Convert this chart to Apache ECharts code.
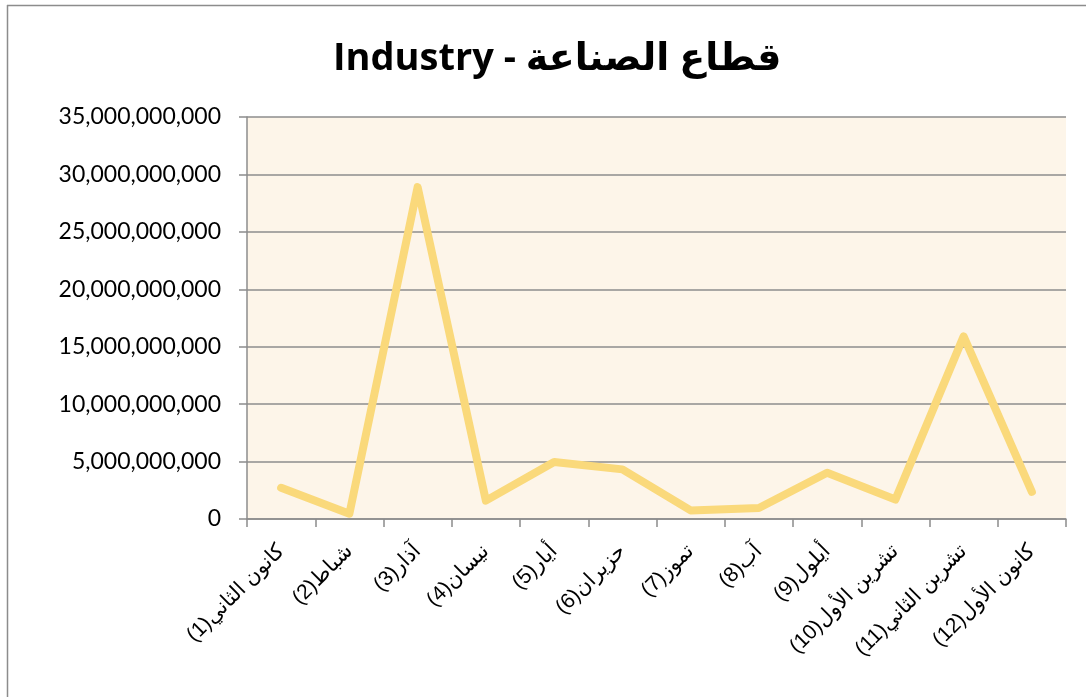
<!DOCTYPE html>
<html>
<head>
<meta charset="utf-8">
<script src="https://cdn.jsdelivr.net/npm/echarts@6/dist/echarts.min.js"></script>
<style>
html,body{margin:0;padding:0;background:#fff;}
#chart{width:1086px;height:697px;}
</style>
</head>
<body>
<div id="chart"></div>
<script>
const titleText = "Industry - قطاع الصناعة";
const monthNames = ["كانون الثاني","شباط","آذار","نيسان","أيار","حزيران","تموز","آب","أيلول","تشرين الأول","تشرين الثاني","كانون الأول"];
const monthNumbers = [1,2,3,4,5,6,7,8,9,10,11,12];
const industryValues = [2720000000, 460000000, 28900000000, 1600000000, 4970000000, 4320000000, 750000000, 960000000, 4030000000, 1690000000, 15900000000, 2370000000];
const yMin = 0, yMax = 35000000000, yStep = 5000000000;

const categories = monthNames.map((n, i) => n + "(" + monthNumbers[i] + ")");

const chart = echarts.init(document.getElementById('chart'), null, {renderer: 'canvas'});
chart.setOption({
  animation: false,
  backgroundColor: '#ffffff',
  title: {
    text: titleText,
    left: 328,
    top: 35,
    textStyle: {fontFamily: 'Open Sans, DejaVu Sans, sans-serif', fontWeight: 'bold', fontSize: 38, color: '#000'}
  },
  graphic: [
    {type: 'line', shape: {x1: 7, y1: 5.5, x2: 1086, y2: 5.5}, style: {stroke: '#8c8c8c', lineWidth: 1.5}},
    {type: 'line', shape: {x1: 7.5, y1: 5, x2: 7.5, y2: 697}, style: {stroke: '#8c8c8c', lineWidth: 1.5}}
  ],
  grid: {left: 247, right: 20, top: 117, bottom: 178, show: true, backgroundColor: '#FDF5E9', borderWidth: 0},
  xAxis: {
    type: 'category',
    data: categories,
    boundaryGap: true,
    axisLine: {lineStyle: {color: '#8c8c8c', width: 1.5}},
    axisTick: {show: true, alignWithLabel: false, length: 8, lineStyle: {color: '#8c8c8c', width: 1.5}},
    axisLabel: {
      interval: 0,
      rotate: 45,
      margin: 29,
      fontSize: 21,
      color: '#000',
      fontFamily: 'Liberation Sans, DejaVu Sans, sans-serif',
      formatter: function (v, i) { return "(" + monthNumbers[i] + ")" + monthNames[i]; }
    }
  },
  yAxis: {
    type: 'value',
    min: yMin, max: yMax, interval: yStep,
    axisLine: {show: true, lineStyle: {color: '#8c8c8c', width: 1.5}},
    axisTick: {show: true, length: 8, lineStyle: {color: '#8c8c8c', width: 1.5}},
    splitLine: {lineStyle: {color: '#8c8c8c', width: 1.5}},
    axisLabel: {
      fontSize: 23, color: '#000', margin: 26,
      fontFamily: 'Lato, Open Sans, sans-serif',
      formatter: v => v.toLocaleString('en-US')
    }
  },
  series: [{
    type: 'line',
    data: industryValues,
    symbol: 'none',
    lineStyle: {color: '#FAD97B', width: 8, cap: 'round', join: 'round'},
    itemStyle: {color: '#FAD97B'}
  }]
});
</script>
</body>
</html>
